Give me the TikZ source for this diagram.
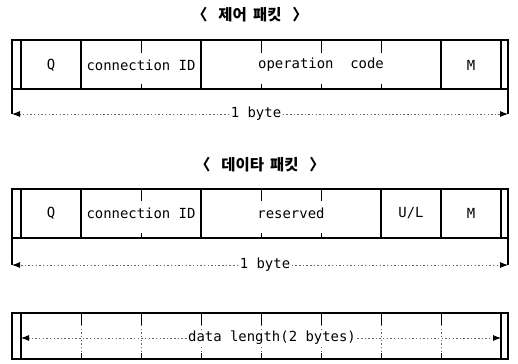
\documentclass[tikz,border=0pt]{standalone}
\usepackage{fontspec}
\setmonofont{DejaVu Sans Mono}
\newfontfamily\cjk{Noto Sans CJK KR}
\usetikzlibrary{arrows.meta}

\tikzset{
  frame/.style={line width=0.9pt},
  tick/.style={line width=0.7pt},
  dimline/.style={dash pattern=on 1pt off 1.6pt, line width=0.6pt, black!60,
    -{Latex[length=2mm, width=1.5mm, color=black]}},
  lbl/.style={font=\ttfamily\fontsize{9.9}{11}\selectfont, inner sep=1pt},
  title/.style={font=\cjk\bfseries\fontsize{11}{13}\selectfont},
}
\newcommand{\brgap}{\hspace{0.7em}}
\newcommand{\wdgap}{\hspace{0.4em}}

\begin{document}
\begin{tikzpicture}[x=0.25mm, y=-0.25mm]
    \useasboundingbox (0,0) rectangle (518,363);

    % control packet
    \node[title] (ctitle) at (250,15) {〈\brgap 제어\wdgap 패킷\brgap 〉};
    \draw[frame] (12,40) rectangle (508,89);
    \foreach \x in {21,81,201,441,501}
        \draw[frame] (\x,40) -- (\x,89);
    \foreach \x in {141,261,321,381} {
        \draw[tick] (\x,40) -- (\x,53);
        \draw[tick] (\x,89) -- (\x,84);
    }
    \draw[frame] (12,89) -- (12,114) coordinate (c_l);
    \draw[frame] (508,89) -- (508,114) coordinate (c_r);

    \node[lbl] (cq) at (51,65) {Q};
    \node[lbl] (ccid) at (141,65) {connection ID};
    \node[lbl] (cop) at (321,65) {operation~~code};
    \node[lbl] (cm) at (471,65) {M};

    \node[lbl] (cbyte) at (256,114) {1 byte};
    \draw[dimline] (cbyte.west) -- (c_l);
    \draw[dimline] (cbyte.east) -- (c_r);

    % data packet
    \node[title] (dtitle) at (260,165) {〈\brgap 데이타\wdgap 패킷\brgap 〉};
    \draw[frame] (12,189) rectangle (508,238);
    \foreach \x in {21,81,201,381,441,501}
        \draw[frame] (\x,189) -- (\x,238);
    \foreach \x in {141,261,321} {
        \draw[tick] (\x,189) -- (\x,201);
        \draw[tick] (\x,238) -- (\x,233);
    }
    \draw[frame] (12,238) -- (12,265) coordinate (d_l);
    \draw[frame] (508,238) -- (508,265) coordinate (d_r);

    \node[lbl] (dq) at (51,213) {Q};
    \node[lbl] (dcid) at (141,213) {connection ID};
    \node[lbl] (dres) at (291,213) {reserved};
    \node[lbl] (dul) at (411,213) {U/L};
    \node[lbl] (dm) at (471,213) {M};

    \node[lbl] (dbyte) at (265,265) {1 byte};
    \draw[dimline] (dbyte.west) -- (d_l);
    \draw[dimline] (dbyte.east) -- (d_r);

    % data length
    \draw[frame] (12,313) rectangle (508,359);
    \foreach \x in {21,501}
        \draw[frame] (\x,313) -- (\x,359);
    \foreach \x in {81,141,201,261,321,381,441} {
        \draw[tick] (\x,313) -- (\x,325);
        \draw[tick] (\x,359) -- (\x,353);
        \draw[dimline, -] (\x,325) -- (\x,353);
    }
    \coordinate (l_l) at (21,338);
    \coordinate (l_r) at (501,338);
    \node[lbl, fill=white] (llen) at (272,338) {data length(2 bytes)};
    \draw[dimline] (llen.west) -- (l_l);
    \draw[dimline] (llen.east) -- (l_r);
\end{tikzpicture}
\end{document}
